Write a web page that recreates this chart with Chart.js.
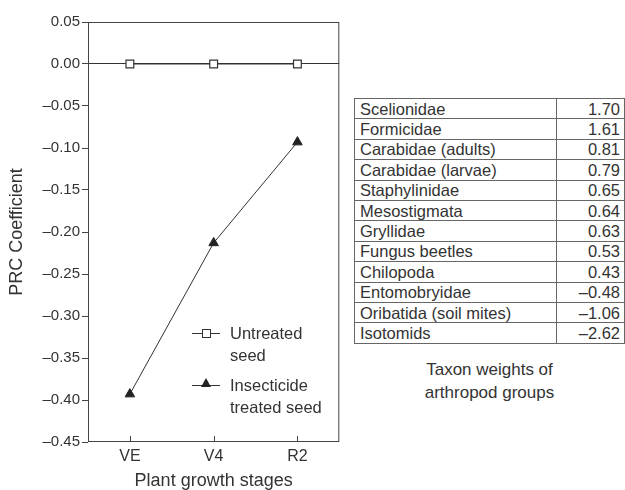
<!DOCTYPE html>
<html lang="en">
<head>
<meta charset="UTF-8">
<title>PRC Coefficient and taxon weights</title>
<script src="https://cdn.jsdelivr.net/npm/chart.js"></script>
<style>
    body { margin: 0; background: #fff; font-family: "Liberation Sans", Arial, sans-serif; color: #333; }
    #wrap { position: relative; width: 625px; height: 490px; overflow: hidden; }
    #prc { position: absolute; left: 0; top: 0; }
    .legend { position: absolute; left: 192px; top: 322px; font-size: 16.5px; line-height: 22px; }
    .entry { display: flex; margin-bottom: 8px; }
    .mark { position: relative; width: 28px; height: 22px; margin-right: 10px; flex: none; }
    .mark .ln { position: absolute; left: 0; right: 0; top: 11px; border-top: 1px solid #333; }
    .mark .sq { position: absolute; left: 10px; top: 7px; width: 7px; height: 7px; border: 1px solid #333; background: #fff; }
    .mark .tri { position: absolute; left: 9px; top: 4px; width: 0; height: 0;
        border-left: 5px solid transparent; border-right: 5px solid transparent; border-bottom: 9px solid #222; }
    table { position: absolute; left: 354px; top: 98px; width: 271px; border-collapse: collapse; font-size: 16.5px; }
    tr { height: 20.4px; }
    td { border: 1px solid #666; padding: 0 4px 0 5px; line-height: 18px; white-space: nowrap; }
    td.v { text-align: right; width: 58px; }
    .caption { position: absolute; left: 354px; width: 271px; top: 358px; text-align: center; font-size: 17px; line-height: 23px; }
</style>
</head>
<body>
<div id="wrap">
    <canvas id="prc" width="346" height="490"></canvas>
    <div class="legend">
        <div class="entry">
            <div class="mark"><div class="ln"></div><div class="sq"></div></div>
            <div>Untreated<br>seed</div>
        </div>
        <div class="entry">
            <div class="mark"><div class="ln"></div><div class="tri"></div></div>
            <div>Insecticide<br>treated seed</div>
        </div>
    </div>
    <table><tbody id="taxonBody"></tbody></table>
    <div class="caption">Taxon weights of<br>arthropod groups</div>
</div>
<script>
    // chart data
    const stages = ['VE', 'V4', 'R2'];
    const untreated = [0, 0, 0];
    const treated = [-0.393, -0.213, -0.093];
    const yMin = -0.45, yMax = 0.05, yStep = 0.05;

    // table data
    const taxa = ['Scelionidae', 'Formicidae', 'Carabidae (adults)', 'Carabidae (larvae)', 'Staphylinidae',
        'Mesostigmata', 'Gryllidae', 'Fungus beetles', 'Chilopoda', 'Entomobryidae',
        'Oribatida (soil mites)', 'Isotomids'];
    const weights = [1.70, 1.61, 0.81, 0.79, 0.65, 0.64, 0.63, 0.53, 0.43, -0.48, -1.06, -2.62];

    const fmt = v => Math.abs(v) < 1e-9 ? '0.00' : v.toFixed(2).replace('-', '\u2013');

    const tbody = document.getElementById('taxonBody');
    taxa.forEach((name, i) => {
        const row = document.createElement('tr');
        row.innerHTML = `<td>${name}</td><td class="v">${fmt(weights[i])}</td>`;
        tbody.appendChild(row);
    });

    // box round the plot plus inward ticks on the x axis
    const framePlugin = {
        id: 'frame',
        afterDraw(chart) {
            const { ctx, chartArea: a } = chart;
            const x = chart.scales.x;
            ctx.save();
            ctx.strokeStyle = '#444';
            ctx.lineWidth = 1;
            ctx.strokeRect(a.left + 0.5, a.top + 0.5, a.right - a.left - 1, a.bottom - a.top - 1);
            ctx.beginPath();
            x.ticks.forEach((t, i) => {
                const px = Math.round(x.getPixelForTick(i)) + 0.5;
                ctx.moveTo(px, a.bottom);
                ctx.lineTo(px, a.bottom - 6);
            });
            ctx.stroke();
            ctx.restore();
        }
    };

    Chart.defaults.font.family = '"Liberation Sans", Arial, sans-serif';
    Chart.defaults.color = '#333';

    new Chart(document.getElementById('prc'), {
        type: 'line',
        data: {
            labels: stages,
            datasets: [{
                label: 'Untreated seed',
                data: untreated,
                borderColor: '#333',
                borderWidth: 1,
                pointStyle: 'rect',
                pointRadius: 5.5,
                pointBackgroundColor: '#fff',
                pointBorderColor: '#333',
                pointBorderWidth: 1.2
            }, {
                label: 'Insecticide treated seed',
                data: treated,
                borderColor: '#333',
                borderWidth: 1,
                pointStyle: 'triangle',
                pointRadius: 5.5,
                pointBackgroundColor: '#222',
                pointBorderColor: '#222',
                pointBorderWidth: 1
            }]
        },
        options: {
            responsive: false,
            animation: false,
            layout: { padding: { top: 22, right: 3, left: 0, bottom: 0 } },
            plugins: { legend: { display: false }, tooltip: { enabled: false } },
            scales: {
                x: {
                    offset: true,
                    border: { display: false },
                    grid: { display: false, drawTicks: false },
                    ticks: { font: { size: 16 }, padding: 5 },
                    title: { display: true, text: 'Plant growth stages', font: { size: 18, lineHeight: 1 }, padding: 0 },
                    afterFit: s => { s.height = 48; }
                },
                y: {
                    min: yMin,
                    max: yMax,
                    border: { display: false },
                    grid: {
                        color: c => Math.abs(c.tick.value) < 1e-9 ? '#333' : 'transparent',
                        tickColor: '#444',
                        tickLength: 6
                    },
                    ticks: { stepSize: yStep, font: { size: 15 }, padding: 2, callback: v => fmt(v) },
                    title: { display: true, text: 'PRC Coefficient', font: { size: 18, lineHeight: 1 }, padding: { top: 8, bottom: 0 } },
                    afterFit: s => { s.width = 88; }
                }
            }
        },
        plugins: [framePlugin]
    });
</script>
</body>
</html>
